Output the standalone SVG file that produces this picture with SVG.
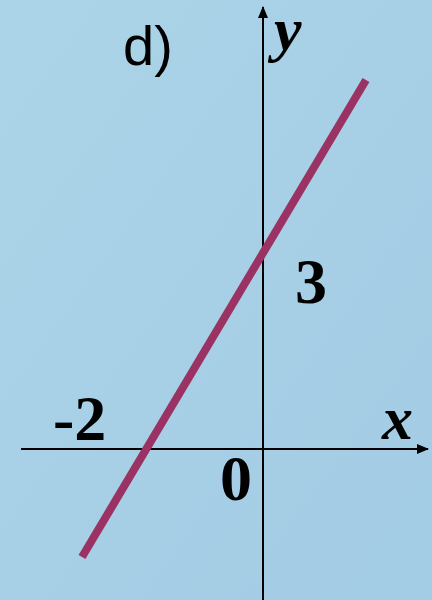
<svg xmlns="http://www.w3.org/2000/svg" width="432" height="600" viewBox="0 0 432 600">
<defs>
<linearGradient id="bg" x1="0" y1="0" x2="1" y2="1">
<stop offset="0" stop-color="#abd4e8"/>
<stop offset="1" stop-color="#a3cce5"/>
</linearGradient>
<marker id="arr" viewBox="0 0 12 10" refX="11" refY="5" markerWidth="12" markerHeight="10" markerUnits="userSpaceOnUse" orient="auto">
<path d="M0,0 L12,5 L0,10 Z" fill="#000"/>
</marker>
<style>
.ax{stroke:#000;stroke-width:2;fill:none}
.num{font-family:"Liberation Serif","Times New Roman",serif;font-weight:bold;font-size:64px;fill:#000}
.var{font-family:"Liberation Serif","Times New Roman",serif;font-weight:bold;font-style:italic;font-size:62px;fill:#000}
</style>
</defs>
<rect width="432" height="600" fill="url(#bg)"/>
<g id="connectors">
<line id="x-axis" class="ax" x1="21" y1="449" x2="428" y2="449" marker-end="url(#arr)"/>
<line id="y-axis" class="ax" x1="263" y1="600" x2="263" y2="7" marker-end="url(#arr)"/>
<line id="graph" x1="82" y1="557" x2="366" y2="80" stroke="#9a3264" stroke-width="8"/>
</g>
<g id="label-d"><text x="123" y="65" font-family="Liberation Sans, Arial, sans-serif" font-size="56" fill="#000">d)</text></g>
<g id="label-y"><text class="var" x="274" y="50">y</text></g>
<g id="label-x"><text class="var" x="382" y="439">x</text></g>
<g id="label-3"><text class="num" x="295" y="303">3</text></g>
<g id="label-m2"><text class="num" x="53" y="440">-2</text></g>
<g id="label-0"><text class="num" x="220" y="500">0</text></g>
</svg>
